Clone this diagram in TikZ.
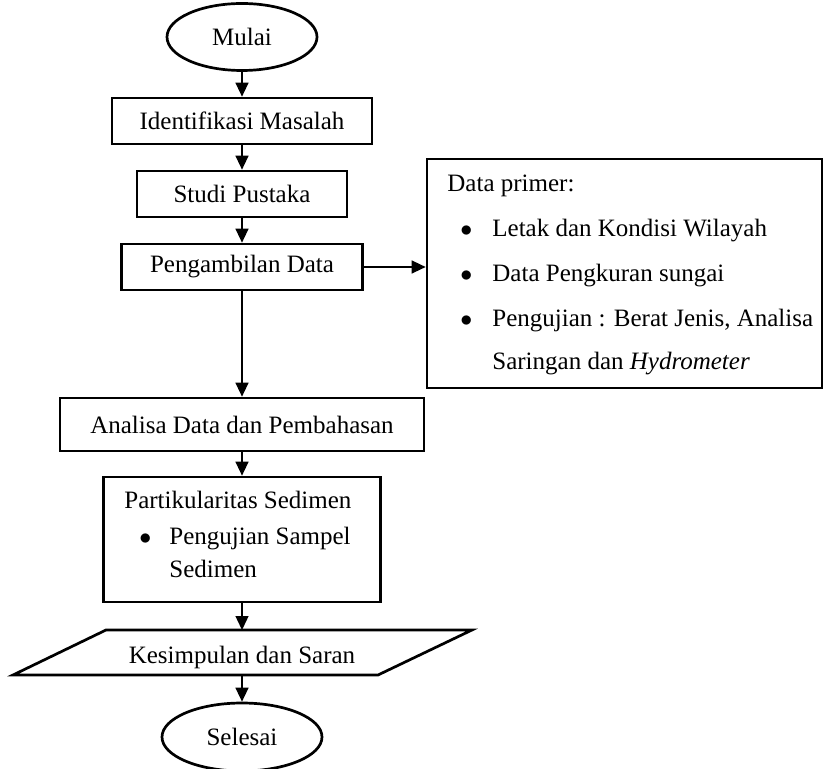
\documentclass[tikz,border=0pt]{standalone}
\usepackage{fontspec}
\setmainfont{Liberation Serif}
\usetikzlibrary{shapes.geometric,arrows.meta}
\begin{document}
\begin{tikzpicture}[x=0.5pt,y=-0.5pt,
  box/.style={draw,line width=1.35pt,inner sep=0pt},
  term/.style={draw,ellipse,line width=1.35pt,inner sep=0pt},
  arr/.style={line width=0.7pt,-{Triangle[length=7pt,width=6.5pt]}},
  txt/.style={inner sep=0pt,anchor=base west},
  bul/.style={inner sep=0pt,anchor=base west,font=\fontsize{13}{15}\selectfont},
  font=\fontsize{12.5}{15}\selectfont]
\useasboundingbox (0,0) rectangle (823,769);
% terminals and process boxes
\node[term,minimum width=75pt,minimum height=33.5pt] (mulai) at (242,37) {Mulai};
\node[box,minimum width=130pt,minimum height=23pt] (ident) at (242,121) {Identifikasi Masalah};
\node[box,minimum width=105pt,minimum height=23pt] (studi) at (242,194) {Studi Pustaka};
\node[box,minimum width=120.5pt,minimum height=23pt] (ambil) at (242,267) {Pengambilan Data};
\node[box,minimum width=197.5pt,minimum height=114.5pt] (primer) at (624.5,273.5) {};
\node[box,minimum width=182pt,minimum height=26.5pt] (analisa) at (242,424.5) {Analisa Data dan Pembahasan};
\node[box,minimum width=138.5pt,minimum height=62.5pt] (partik) at (242,539.5) {};
% parallelogram
\coordinate (k1) at (106,630);
\coordinate (k2) at (472,630);
\coordinate (k3) at (378,675);
\coordinate (k4) at (13,675);
\draw[line width=1.35pt,line join=miter] (k1) -- (k2) -- (k3) -- (k4) -- cycle;
\coordinate (ktop) at (242,630);
\coordinate (kbot) at (242,675);
\node[inner sep=0pt,anchor=base] (kes) at (242,663) {Kesimpulan dan Saran};
\node[term,minimum width=80pt,minimum height=34pt] (selesai) at (242,737) {Selesai};
% texts in data primer box
\node[txt] (p0) at (447,192) {Data primer:};
\node[bul] (b1) at (460,237) {$\bullet$};
\node[txt] (p1) at (492,237) {Letak dan Kondisi Wilayah};
\node[bul] (b2) at (460,282) {$\bullet$};
\node[txt] (p2) at (492,282) {Data Pengkuran sungai};
\node[bul] (b3) at (460,327) {$\bullet$};
\node[txt] (p3) at (492,327) {Pengujian : Berat Jenis, Analisa};
\node[txt] (p4) at (492,370) {Saringan dan \textit{Hydrometer}};
% texts in partikularitas box
\node[txt] (s0) at (124,508) {Partikularitas Sedimen};
\node[bul] (sb) at (139,544) {$\bullet$};
\node[txt] (s1) at (169,544) {Pengujian Sampel};
\node[txt] (s2) at (169,577) {Sedimen};
% connectors
\draw[arr] (mulai) -- (ident);
\draw[arr] (ident) -- (studi);
\draw[arr] (studi) -- (ambil);
\draw[arr] (ambil.east) -- (ambil.east -| primer.west);
\draw[arr] (ambil) -- (analisa);
\draw[arr] (analisa) -- (partik);
\draw[arr] (partik.south) -- (ktop);
\draw[arr] (kbot) -- (selesai.north);
\end{tikzpicture}
\end{document}
